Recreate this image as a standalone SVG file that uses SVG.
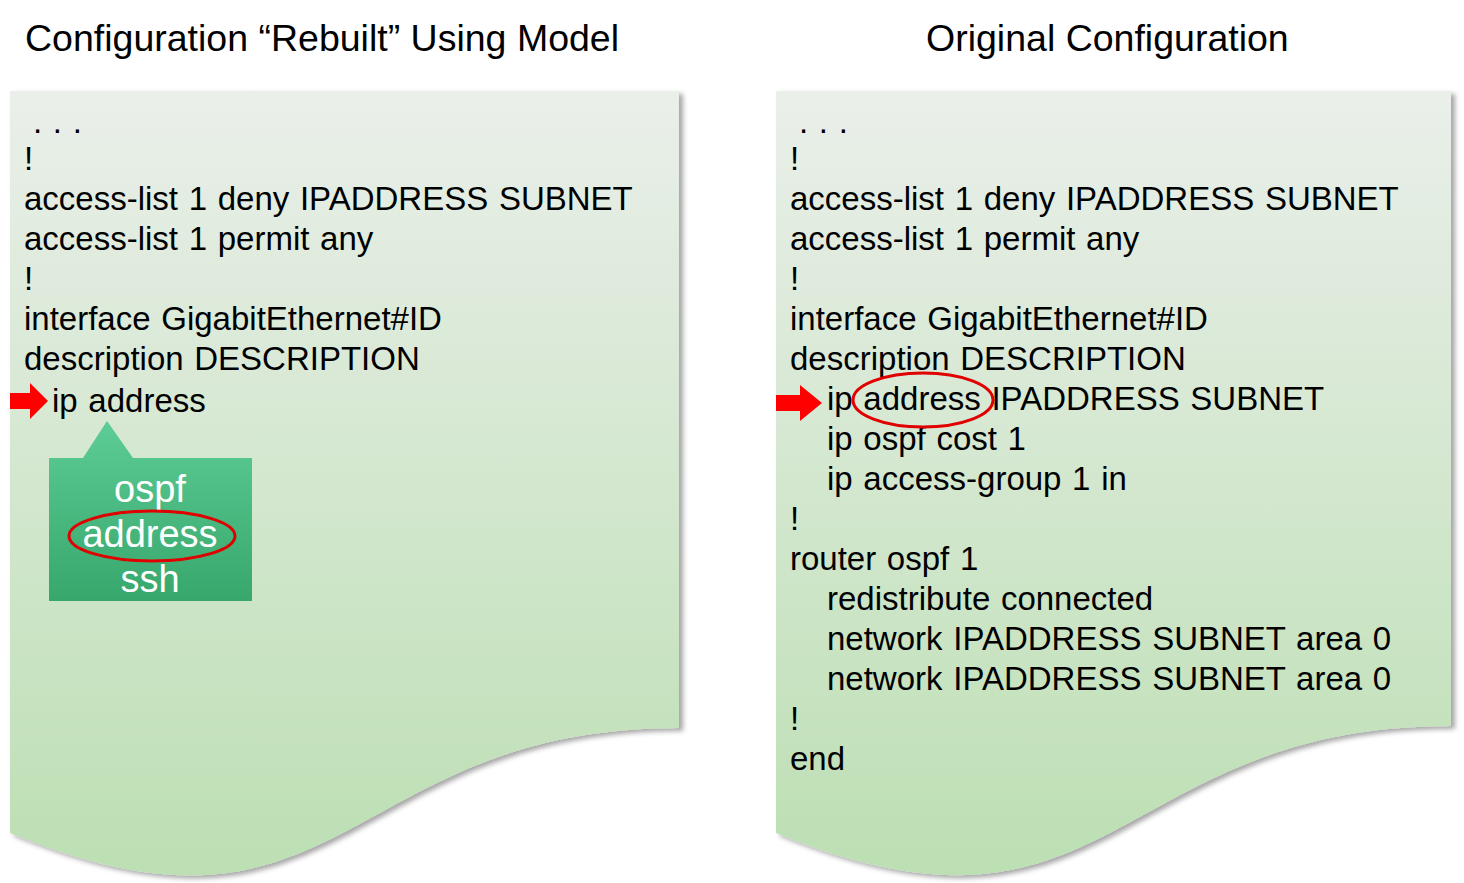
<svg xmlns="http://www.w3.org/2000/svg" width="1464" height="883" viewBox="0 0 1464 883">
<defs>
<linearGradient id="docg" x1="0" y1="0" x2="0" y2="1">
<stop offset="0" stop-color="#eaefea"/>
<stop offset="1" stop-color="#bcdfb3"/>
</linearGradient>
<linearGradient id="callg" x1="0" y1="0" x2="0" y2="1">
<stop offset="0" stop-color="#5dcc96"/>
<stop offset="1" stop-color="#37a76c"/>
</linearGradient>
<filter id="sh" x="-5%" y="-5%" width="115%" height="115%">
<feDropShadow dx="4" dy="3" stdDeviation="2.5" flood-color="#000" flood-opacity="0.35"/>
</filter>
<style>
.t{font-family:"Liberation Sans",Arial,sans-serif;font-size:33px;word-spacing:1.5px;fill:#000}
.h{font-family:"Liberation Sans",Arial,sans-serif;font-size:37.5px;fill:#000}
.w{font-family:"Liberation Sans",Arial,sans-serif;font-size:38px;fill:#fff;text-anchor:middle}
.ring{fill:none;stroke:#e00000;stroke-width:3}
.arr{fill:#ff0000}
</style>
</defs>
<rect width="1464" height="883" fill="#fff"/>
<text class="h" x="25" y="51">Configuration “Rebuilt” Using Model</text>
<text class="h" x="926" y="51">Original Configuration</text>

<g id="doc-left">
<path d="M10,91 H679 V728 C344,728 344,971 10,833 Z" fill="url(#docg)" filter="url(#sh)"/>
<text class="t" x="33" y="133">. . .</text>
<text class="t" x="24" y="170">!</text>
<text class="t" x="24" y="210">access-list 1 deny IPADDRESS SUBNET</text>
<text class="t" x="24" y="250">access-list 1 permit any</text>
<text class="t" x="24" y="290">!</text>
<text class="t" x="24" y="330">interface GigabitEthernet#ID</text>
<text class="t" x="24" y="370">description DESCRIPTION</text>
<text class="t" x="52" y="412">ip address</text>
<path class="arr" d="M10,393 H30 V383 L48,401 L30,419 V409 H10 Z"/>
</g>

<g id="callout">
<path d="M49,458 H83 L107,421 L133,458 H252 V601 H49 Z" fill="url(#callg)"/>
<text class="w" x="150" y="502">ospf</text>
<text class="w" x="150" y="547">address</text>
<text class="w" x="150" y="592">ssh</text>
<ellipse class="ring" cx="152" cy="536" rx="83" ry="25"/>
</g>

<g id="doc-right">
<path d="M776,91 H1451 V726 C1113,726 1113,971 776,833 Z" fill="url(#docg)" filter="url(#sh)"/>
<text class="t" x="799" y="133">. . .</text>
<text class="t" x="790" y="170">!</text>
<text class="t" x="790" y="210">access-list 1 deny IPADDRESS SUBNET</text>
<text class="t" x="790" y="250">access-list 1 permit any</text>
<text class="t" x="790" y="290">!</text>
<text class="t" x="790" y="330">interface GigabitEthernet#ID</text>
<text class="t" x="790" y="370">description DESCRIPTION</text>
<text class="t" x="827" y="410">ip address IPADDRESS SUBNET</text>
<text class="t" x="827" y="450">ip ospf cost 1</text>
<text class="t" x="827" y="490">ip access-group 1 in</text>
<text class="t" x="790" y="530">!</text>
<text class="t" x="790" y="570">router ospf 1</text>
<text class="t" x="827" y="610">redistribute connected</text>
<text class="t" x="827" y="650">network IPADDRESS SUBNET area 0</text>
<text class="t" x="827" y="690">network IPADDRESS SUBNET area 0</text>
<text class="t" x="790" y="730">!</text>
<text class="t" x="790" y="770">end</text>
<path class="arr" d="M776,395 H800 V385 L822,403 L800,421 V411 H776 Z"/>
<ellipse class="ring" cx="923" cy="400" rx="70" ry="27"/>
</g>
</svg>
